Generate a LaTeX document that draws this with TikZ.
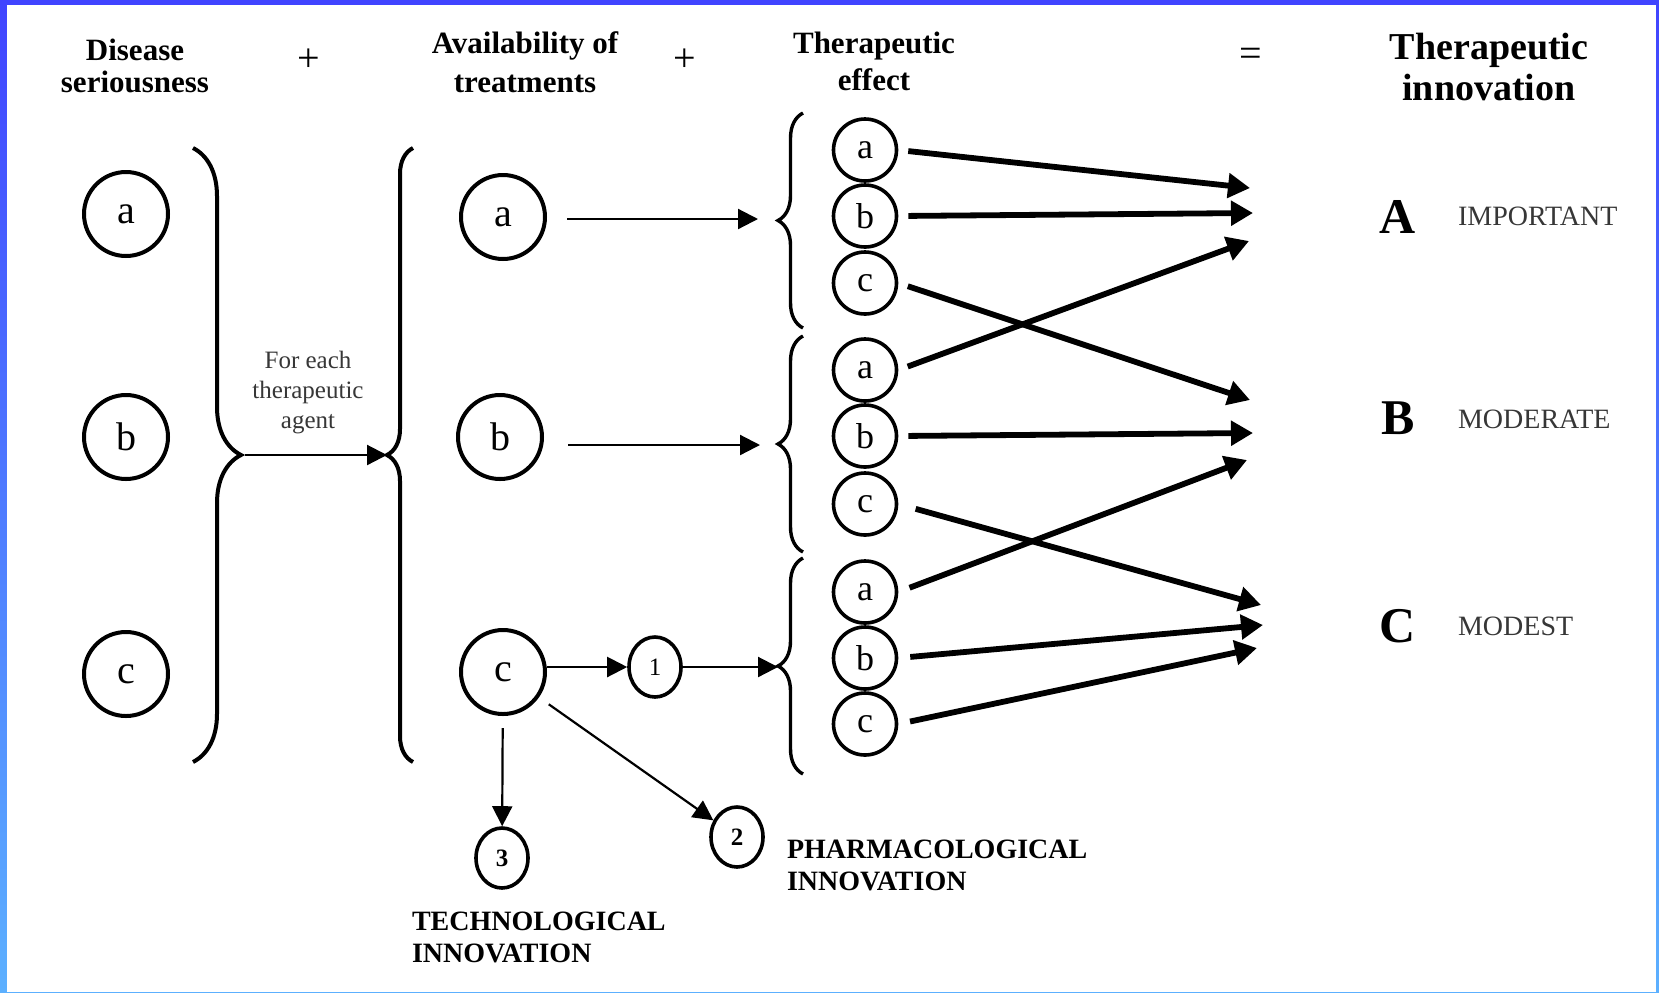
\documentclass[tikz,border=0pt]{standalone}
\usepackage{fontspec}
\setmainfont{Liberation Serif}
\usetikzlibrary{arrows.meta, shapes.geometric, decorations.pathreplacing}

\definecolor{frametop}{RGB}{64,68,255}
\definecolor{framebottom}{RGB}{92,176,255}
\definecolor{labelgray}{RGB}{55,55,55}

\tikzset{
    bigcirc/.style = {ellipse, draw, line width = 2pt, minimum width = 42pt, minimum height = 42pt, inner sep = 0pt, font = \fontsize{20}{20}\selectfont},
    smallcirc/.style = {ellipse, draw, line width = 1.8pt, minimum width = 31.5pt, minimum height = 31pt, inner sep = 0pt, font = \fontsize{18}{18}\selectfont},
    numcirc/.style = {ellipse, draw, line width = 1.8pt, minimum width = 26pt, minimum height = 30pt, inner sep = 0pt, font = \bfseries\fontsize{12.5}{12.5}\selectfont},
    header/.style = {align = center, font = \bfseries\fontsize{15.5}{18.5}\selectfont},
    sign/.style = {font = \fontsize{20}{20}\selectfont},
    grade/.style = {font = \bfseries\fontsize{25}{25}\selectfont},
    gradetext/.style = {anchor = west, text = labelgray, font = \fontsize{14}{14}\selectfont},
    kindtext/.style = {anchor = north west, align = left, font = \bfseries\fontsize{14}{16}\selectfont},
    thinarrow/.style = {line width = 1.1pt, -{Triangle[length = 10pt, width = 10pt]}},
    thickarrow/.style = {line width = 2.9pt, -{Triangle[length = 11pt, width = 12pt]}},
    bigbrace/.style = {decorate, decoration = {brace, amplitude = #1}, line width = 2pt},
    smallbrace/.style = {decorate, decoration = {brace, amplitude = 12.5pt}, line width = 1.7pt}
}

\begin{document}
\begin{tikzpicture}[x = 0.5pt, y = -0.5pt]
    % frame
    \shade [top color = frametop, bottom color = framebottom] (0,0) rectangle (1659,992);
    \fill [white] (7,5) rectangle (1656,992);
    \useasboundingbox (0,0) rectangle (1659,992);

    % column headers
    \node (hdis) at (135,66) [header, font = \bfseries\fontsize{15.5}{16}\selectfont] {Disease\\seriousness};
    \node (plusa) at (309,60) [sign] {+};
    \node (havail) at (525,62) [header, font = \bfseries\fontsize{15.5}{19.5}\selectfont] {Availability of\\treatments};
    \node (plusb) at (685,60) [sign] {+};
    \node (heff) at (874,61) [header] {Therapeutic\\effect};
    \node (equal) at (1251,57) [sign] {=};
    \node (hinno) at (1489,67) [header, font = \bfseries\fontsize{19}{20.5}\selectfont] {Therapeutic\\innovation};

    % disease seriousness
    \node (sa) at (126,214) [bigcirc] {a};
    \node (sb) at (126,437) [bigcirc] {b};
    \node (sc) at (126,674) [bigcirc] {c};
    \draw [bigbrace = 24pt] (193,148) -- (193,762);
    \coordinate (stip) at (241,455);

    % for each agent
    \node (agent) at (308,393) [align = center, text = labelgray, font = \fontsize{12.5}{15}\selectfont] {For each\\therapeutic\\agent};
    \draw [bigbrace = 13pt] (413,762) -- (413,148);
    \coordinate (ttip) at (387,455);
    \draw [thinarrow, shorten <= 2pt] (stip) -- (ttip);

    % availability of treatments
    \node (ta) at (503,217) [bigcirc] {a};
    \node (tb) at (500,437) [bigcirc] {b};
    \node (tc) at (503,672) [bigcirc] {c};
    \node (none) at (655,667) [numcirc, font = \fontsize{12.5}{12.5}\selectfont] {1};
    \node (ntwo) at (737,837) [numcirc] {2};
    \node (nthree) at (502,858) [numcirc] {3};
    \node (kpharm) at (780,833) [kindtext] {PHARMACOLOGICAL\\INNOVATION};
    \node (ktech) at (405,905) [kindtext] {TECHNOLOGICAL\\INNOVATION};

    % therapeutic effect
    \draw [smallbrace] (803,328) -- (803,113);
    \draw [smallbrace] (803,552) -- (803,336);
    \draw [smallbrace] (803,774) -- (803,558);
    \coordinate (etipa) at (778,219);
    \coordinate (etipb) at (778,445);
    \coordinate (etipc) at (780,667);
    \node (ea1) at (865,150) [smallcirc] {a};
    \node (eb1) at (865,216) [smallcirc] {b};
    \node (ec1) at (865,283) [smallcirc] {c};
    \node (ea2) at (865,370) [smallcirc] {a};
    \node (eb2) at (865,436) [smallcirc] {b};
    \node (ec2) at (865,504) [smallcirc] {c};
    \node (ea3) at (865,592) [smallcirc] {a};
    \node (eb3) at (865,658) [smallcirc] {b};
    \node (ec3) at (865,724) [smallcirc] {c};

    \draw [thinarrow, shorten <= 10pt, shorten >= 10pt] (ta.east |- etipa) -- (etipa);
    \draw [thinarrow, shorten <= 12pt, shorten >= 9pt] (tb.east |- etipb) -- (etipb);
    \draw [thinarrow] (tc.east |- none) -- (none);
    \draw [thinarrow, shorten >= 1pt] (none) -- (etipc);
    \draw [thinarrow, shorten <= 6pt] (tc) -- (ntwo);
    \draw [thinarrow, shorten <= 6pt] (tc) -- (nthree);

    % therapeutic innovation
    \node (ga) at (1398,217) [grade] {A};
    \node (gb) at (1398,418) [grade] {B};
    \node (gc) at (1398,626) [grade] {C};
    \node (la) at (1451,216) [gradetext] {IMPORTANT};
    \node (lb) at (1451,419) [gradetext] {MODERATE};
    \node (lc) at (1451,626) [gradetext] {MODEST};
    \coordinate (ia1) at (1250,188);
    \coordinate (ia2) at (1253,213);
    \coordinate (ia3) at (1249,241);
    \coordinate (ib1) at (1250,400);
    \coordinate (ib2) at (1253,433);
    \coordinate (ib3) at (1247,460);
    \coordinate (ic1) at (1261,605);
    \coordinate (ic2) at (1263,625);
    \coordinate (ic3) at (1257,648);
    \draw [thickarrow, shorten <= 5pt] (ea1.east) -- (ia1);
    \draw [thickarrow, shorten <= 5pt] (eb1.east) -- (ia2);
    \draw [thickarrow, shorten <= 5pt] (ec1.east) -- (ib1);
    \draw [thickarrow, shorten <= 5pt] (ea2.east) -- (ia3);
    \draw [thickarrow, shorten <= 5pt] (eb2.east) -- (ib2);
    \draw [thickarrow, shorten <= 9pt] (ec2.east) -- (ic1);
    \draw [thickarrow, shorten <= 6pt] (ea3.east) -- (ib3);
    \draw [thickarrow, shorten <= 6pt] (eb3.east) -- (ic2);
    \draw [thickarrow, shorten <= 6pt] (ec3.east) -- (ic3);
\end{tikzpicture}
\end{document}
